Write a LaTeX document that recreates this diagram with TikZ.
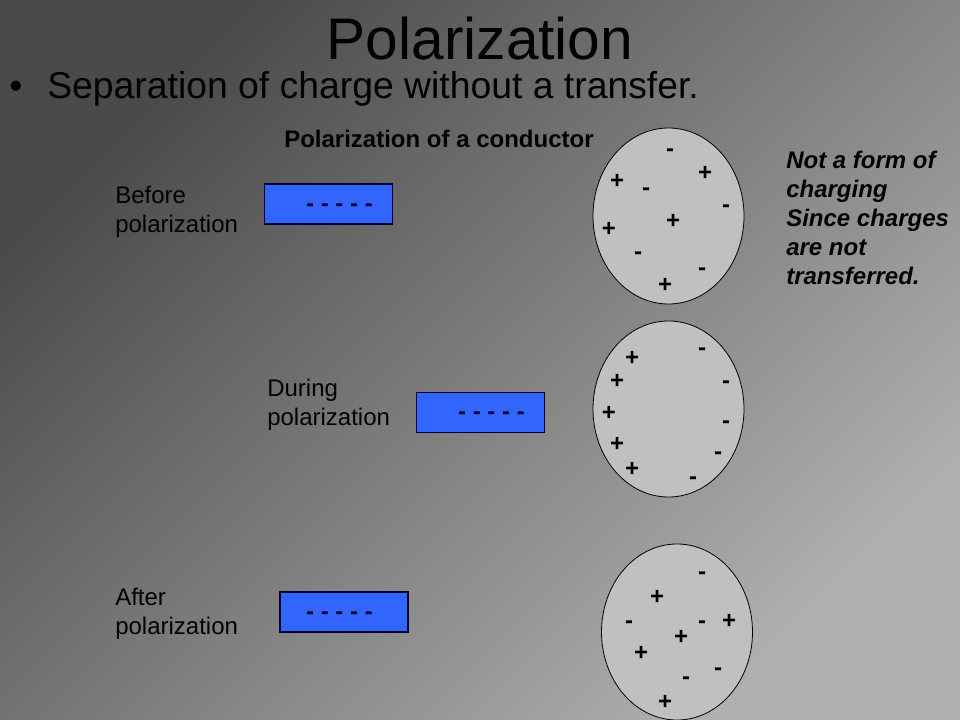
\documentclass[tikz,border=0pt]{standalone}
\usepackage{fontspec}
\setmainfont{Liberation Sans}
\usetikzlibrary{shapes.geometric}
\definecolor{bgdark}{RGB}{74,74,74}
\definecolor{bglight}{RGB}{176,176,176}
\definecolor{rodblue}{RGB}{51,102,255}
\definecolor{navy}{RGB}{0,0,51}
\definecolor{silver}{RGB}{192,192,192}
\begin{document}
\begin{tikzpicture}[x=0.75pt,y=-0.75pt,
  titletext/.style={font=\fontsize{44}{52}\selectfont, anchor=base, inner sep=0},
  bullettext/.style={font=\fontsize{28}{34}\selectfont, anchor=base west, inner sep=0},
  labeltext/.style={font=\fontsize{18}{22}\selectfont, anchor=base west, inner sep=0},
  boldlabel/.style={font=\bfseries\fontsize{18}{22}\selectfont, anchor=base west, inner sep=0},
  notetext/.style={font=\bfseries\itshape\fontsize{18}{22}\selectfont, anchor=base west, inner sep=0},
  rod/.style={rectangle, draw=navy, line width=0.8pt, fill=rodblue, minimum width=96pt, minimum height=30pt, inner sep=0},
  rodcharge/.style={font=\bfseries\fontsize{18}{22}\selectfont, text=navy, anchor=base, inner sep=0},
  conductor/.style={ellipse, draw=black, line width=0.6pt, fill=silver, minimum width=113.25pt, minimum height=132pt, inner sep=0},
  poscharge/.style={font=\bfseries\fontsize{18}{22}\selectfont, anchor=base, inner sep=0, yshift=-6.2pt},
  negcharge/.style={font=\bfseries\fontsize{18}{22}\selectfont, anchor=base, inner sep=0, yshift=-4.9pt}]

\useasboundingbox (0,0) rectangle (960,720);
\shade[top color=bgdark, bottom color=bglight, shading angle=45] (0,0) rectangle (960,720);

% titles
\node[titletext] (title) at (480,60) {Polarization};
\node[font=\fontsize{28}{34}\selectfont, anchor=base west, inner sep=0] (bullet) at (9,99) {•};
\node[bullettext] (sub) at (47,99) {Separation of charge without a transfer.};
\node[boldlabel] (heading) at (284,148) {Polarization of a conductor};

% labels
\node[labeltext] (before1) at (115,204) {Before};
\node[labeltext] (before2) at (115,233) {polarization};
\node[labeltext] (during1) at (267,396) {During};
\node[labeltext] (during2) at (267,425) {polarization};
\node[labeltext] (after1) at (115,605) {After};
\node[labeltext] (after2) at (115,634) {polarization};

% note
\node[notetext] (note1) at (786,169) {Not a form of};
\node[notetext] (note2) at (786,198) {charging};
\node[notetext] (note3) at (786,227) {Since charges};
\node[notetext] (note4) at (786,256) {are not};
\node[notetext] (note5) at (786,285) {transferred.};

% rods
\node[rod] (rod1) at (328.5,204) {};
\node[rodcharge] (rod1q) at (339.5,211.5) {- - - - -};
\node[rod] (rod2) at (480.5,412.5) {};
\node[rodcharge] (rod2q) at (491.5,419.5) {- - - - -};
\node[rod] (rod3) at (344,612) {};
\node[rodcharge] (rod3q) at (339.5,619.5) {- - - - -};

% conductors
\node[conductor] (cond1) at (668.5,216) {};
\node[conductor] (cond2) at (668.5,409) {};
\node[conductor] (cond3) at (677,632) {};

% charges, conductor 1
\node[negcharge] (a1) at (670,150) {-};
\node[poscharge] (a2) at (705,172) {+};
\node[poscharge] (a3) at (617,180) {+};
\node[negcharge] (a4) at (646,189) {-};
\node[negcharge] (a5) at (726,206) {-};
\node[poscharge] (a6) at (673,220) {+};
\node[poscharge] (a7) at (609,228) {+};
\node[negcharge] (a8) at (638,253) {-};
\node[negcharge] (a9) at (702,269) {-};
\node[poscharge] (a10) at (665,284) {+};

% charges, conductor 2
\node[poscharge] (b1) at (632,357) {+};
\node[negcharge] (b2) at (702,349) {-};
\node[poscharge] (b3) at (617,380) {+};
\node[negcharge] (b4) at (726,382) {-};
\node[poscharge] (b5) at (609,412) {+};
\node[negcharge] (b6) at (726,422) {-};
\node[poscharge] (b7) at (617,443) {+};
\node[negcharge] (b8) at (718,453) {-};
\node[poscharge] (b9) at (632,468) {+};
\node[negcharge] (b10) at (693,478) {-};

% charges, conductor 3
\node[negcharge] (c1) at (702,573) {-};
\node[poscharge] (c2) at (657,596) {+};
\node[negcharge] (c3) at (629,622) {-};
\node[negcharge] (c4) at (702,622) {-};
\node[poscharge] (c5) at (729,620) {+};
\node[poscharge] (c6) at (681,636) {+};
\node[poscharge] (c7) at (641,652) {+};
\node[negcharge] (c8) at (718,669) {-};
\node[negcharge] (c9) at (686,678) {-};
\node[poscharge] (c10) at (665,701) {+};
\end{tikzpicture}
\end{document}
